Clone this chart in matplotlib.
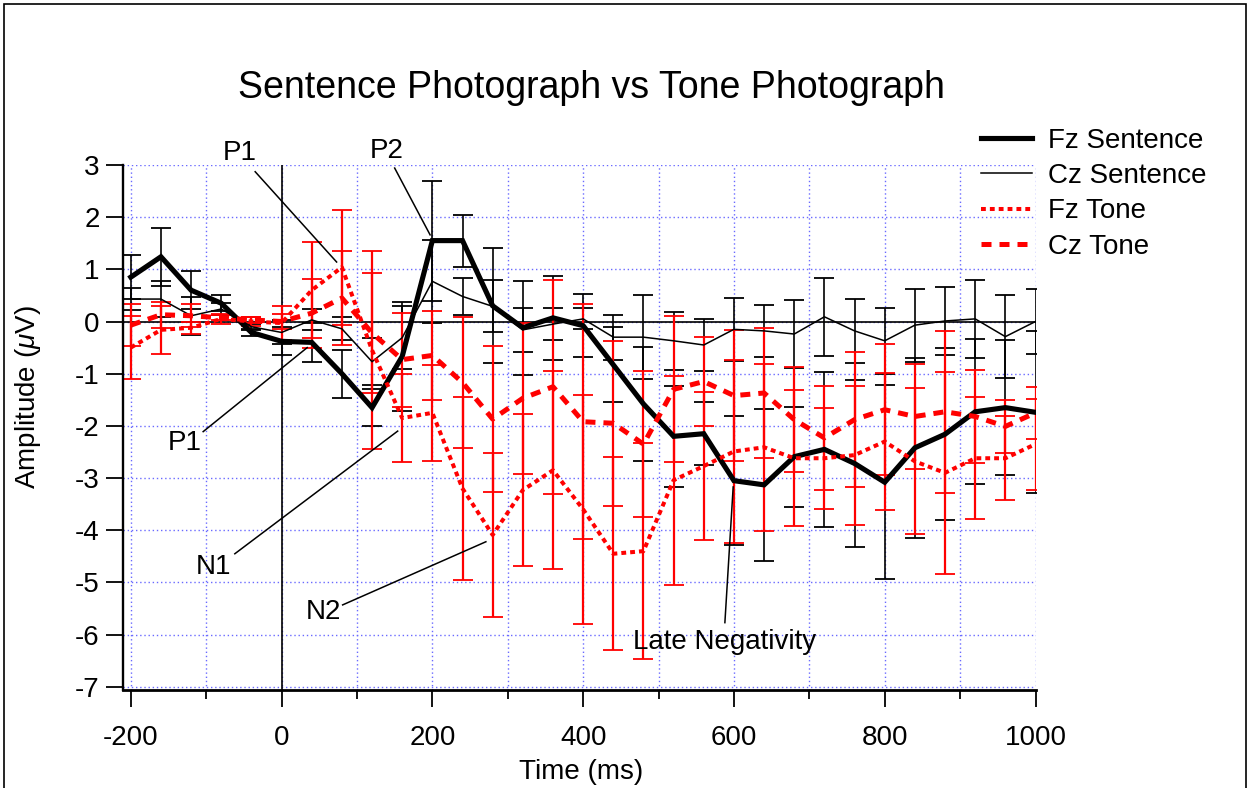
import matplotlib
matplotlib.use("Agg")
import matplotlib.pyplot as plt
from matplotlib.patches import Rectangle

plt.rcParams["font.family"] = ["Liberation Sans", "DejaVu Sans"]
plt.rcParams["axes.unicode_minus"] = False
plt.rcParams["mathtext.fontset"] = "custom"
plt.rcParams["mathtext.it"] = "Liberation Sans:italic"
plt.rcParams["mathtext.rm"] = "Liberation Sans"

# time in ms, one sample every 40 ms
times = [-200, -160, -120, -80, -40, 0, 40, 80, 120, 160, 200, 240, 280, 320,
         360, 400, 440, 480, 520, 560, 600, 640, 680, 720, 760, 800, 840, 880,
         920, 960, 1000]

fz_sentence = [0.85, 1.24, 0.6, 0.35, -0.21, -0.38, -0.4, -1.0, -1.65, -0.67,
               1.55, 1.55, 0.3, -0.12, 0.07, -0.08, -0.83, -1.58, -2.2, -2.15,
               -3.05, -3.13, -2.59, -2.45, -2.72, -3.08, -2.42, -2.16, -1.73,
               -1.65, -1.74]
fz_sentence_err = [0.42, 0.56, 0.36, 0.15, 0.06, 0.27, 0.38, 0.46, 0.35, 1.05,
                   1.15, 0.5, 1.1, 0.9, 0.8, 0.6, 0.72, 1.1, 0.97, 0.6, 1.24,
                   1.46, 0.96, 1.48, 1.6, 1.86, 1.72, 1.65, 1.39, 1.3, 1.55]

cz_sentence = [0.43, 0.43, 0.11, 0.24, -0.1, -0.21, 0.03, -0.14, -0.77, -0.31,
               0.77, 0.48, 0.29, -0.16, -0.05, 0.05, -0.3, -0.3, -0.37, -0.45,
               -0.15, -0.18, -0.24, 0.09, -0.18, -0.37, -0.07, 0.01, 0.05,
               -0.29, 0.0]
cz_sentence_err = [0.21, 0.35, 0.36, 0.12, 0.06, 0.23, 0.2, 0.22, 0.45, 0.6,
                   0.8, 0.35, 0.5, 0.42, 0.3, 0.2, 0.43, 0.8, 0.55, 0.5, 0.6,
                   0.5, 0.66, 0.75, 0.62, 0.63, 0.7, 0.66, 0.75, 0.8, 0.63]

fz_tone = [-0.5, -0.16, -0.12, 0.05, 0.0, -0.03, 0.6, 1.04, -0.55, -1.85,
           -1.75, -3.2, -4.09, -3.23, -2.85, -3.6, -4.45, -4.4, -3.04, -2.77,
           -2.49, -2.41, -2.62, -2.62, -2.56, -2.3, -2.68, -2.9, -2.62, -2.62,
           -2.35]
fz_tone_err = [0.6, 0.46, 0.12, 0.1, 0.08, 0.33, 0.92, 1.1, 1.9, 0.85, 0.92,
               1.76, 1.58, 1.45, 1.9, 2.2, 1.85, 2.07, 2.0, 1.42, 1.75, 1.6,
               1.3, 0.97, 1.33, 1.32, 1.4, 1.94, 1.17, 0.8, 0.87]

cz_tone = [-0.07, 0.13, 0.11, 0.07, 0.03, 0.0, 0.16, 0.45, -0.22, -0.73,
           -0.65, -1.17, -1.87, -1.47, -1.25, -1.92, -1.95, -2.35, -1.3, -1.15,
           -1.42, -1.37, -1.88, -2.23, -1.88, -1.69, -1.82, -1.73, -1.82,
           -2.01, -1.75]
cz_tone_err = [0.4, 0.25, 0.22, 0.05, 0.06, 0.15, 0.66, 0.9, 1.15, 0.9, 0.85,
               1.25, 1.4, 1.45, 2.05, 2.25, 1.58, 1.4, 1.4, 0.85, 1.25, 1.25,
               1.0, 1.0, 1.3, 1.25, 1.0, 1.55, 0.9, 0.5, 0.5]

labels = ["Fz Sentence", "Cz Sentence", "Fz Tone", "Cz Tone"]

fig = plt.figure(figsize=(12.5, 7.88), dpi=100)
ax = fig.add_axes([0.0986, 0.1244, 0.7298, 0.6663])

# error bars first, lines on top
eb = dict(fmt="none", capsize=7.5, capthick=1.3)
ax.errorbar(times, fz_sentence, yerr=fz_sentence_err, ecolor="black", elinewidth=1.2, **eb)
ax.errorbar(times, cz_sentence, yerr=cz_sentence_err, ecolor="black", elinewidth=1.2, **eb)
ax.errorbar(times, fz_tone, yerr=fz_tone_err, ecolor="red", elinewidth=1.6, **eb)
ax.errorbar(times, cz_tone, yerr=cz_tone_err, ecolor="red", elinewidth=1.6, **eb)

h1, = ax.plot(times, fz_sentence, color="black", lw=3.7, solid_joinstyle="miter")
h2, = ax.plot(times, cz_sentence, color="black", lw=1.1)
h3, = ax.plot(times, fz_tone, color="red", lw=2.9, linestyle=(0, (1.2, 1.0)))
h4, = ax.plot(times, cz_tone, color="red", lw=3.6, linestyle=(0, (2.0, 1.6)))

ax.axhline(0, color="black", lw=1.2, zorder=1.5)
ax.axvline(0, color="black", lw=1.2, zorder=1.5)

ax.set_xlim(-210, 1000)
ax.set_ylim(-7.06, 3)
ax.set_xticks(range(-200, 1001, 200))
ax.set_xticks(range(-100, 1000, 200), minor=True)
ax.set_yticks(range(-7, 4))

gridstyle = dict(color="#6a6aff", lw=1.0, linestyle=(0, (1, 2)))
ax.grid(which="both", axis="x", **gridstyle)
ax.grid(which="major", axis="y", **gridstyle)
ax.set_axisbelow(True)

for side in ("top", "right"):
    ax.spines[side].set_visible(False)
ax.spines["left"].set_linewidth(1.7)
ax.spines["bottom"].set_linewidth(2.0)
ax.tick_params(which="major", direction="out", length=12, width=1.3,
               labelsize=20, pad=5)
ax.tick_params(axis="x", which="major", pad=13)
ax.tick_params(which="minor", direction="out", length=6.5, width=1.3)

# annotations: (text, text pos, line start, line end)
notes = [
    ("P1", (-56, 3.23), (-35, 2.87), (73, 1.14)),
    ("P2", (139, 3.27), (150, 2.94), (197, 1.66)),
    ("P1", (-129, -2.33), (-104, -2.11), (34, -0.5)),
    ("N1", (-90, -4.7), (-62, -4.45), (154, -2.1)),
    ("N2", (55, -5.56), (81, -5.43), (271, -4.22)),
    ("Late Negativity", (588, -6.14), (588, -5.77), (599, -3.17)),
]
for text, tpos, p0, p1 in notes:
    ax.plot([p0[0], p1[0]], [p0[1], p1[1]], color="black", lw=1.1,
            clip_on=False, zorder=5)
    ax.text(tpos[0], tpos[1], text, fontsize=20, ha="center", va="center",
            zorder=6, clip_on=False)

fig.text(591 / 1250, 1 - 88 / 788, "Sentence Photograph vs Tone Photograph",
         fontsize=27, ha="center", va="center")
fig.text(581 / 1250, 1 - 772 / 788, "Time (ms)", fontsize=20,
         ha="center", va="center")
fig.text(28 / 1250, 1 - 397 / 788, r"Amplitude ($\mu$V)", fontsize=20,
         ha="center", va="center", rotation=90)

fig.legend([h1, h2, h3, h4], labels, loc="upper left",
           bbox_to_anchor=(981 / 1250, 1 - 128 / 788), frameon=False,
           fontsize=20, handlelength=1.85, handletextpad=0.55,
           labelspacing=0.33, borderpad=0, borderaxespad=0)

# outer frame of the original page
fig.patches.append(Rectangle((4 / 1250, -0.05), 1242 / 1250, 1.05 - 4 / 788,
                             transform=fig.transFigure, fill=False,
                             edgecolor="black", lw=1.2))

fig.savefig("out.png", dpi=100)
plt.close(fig)
